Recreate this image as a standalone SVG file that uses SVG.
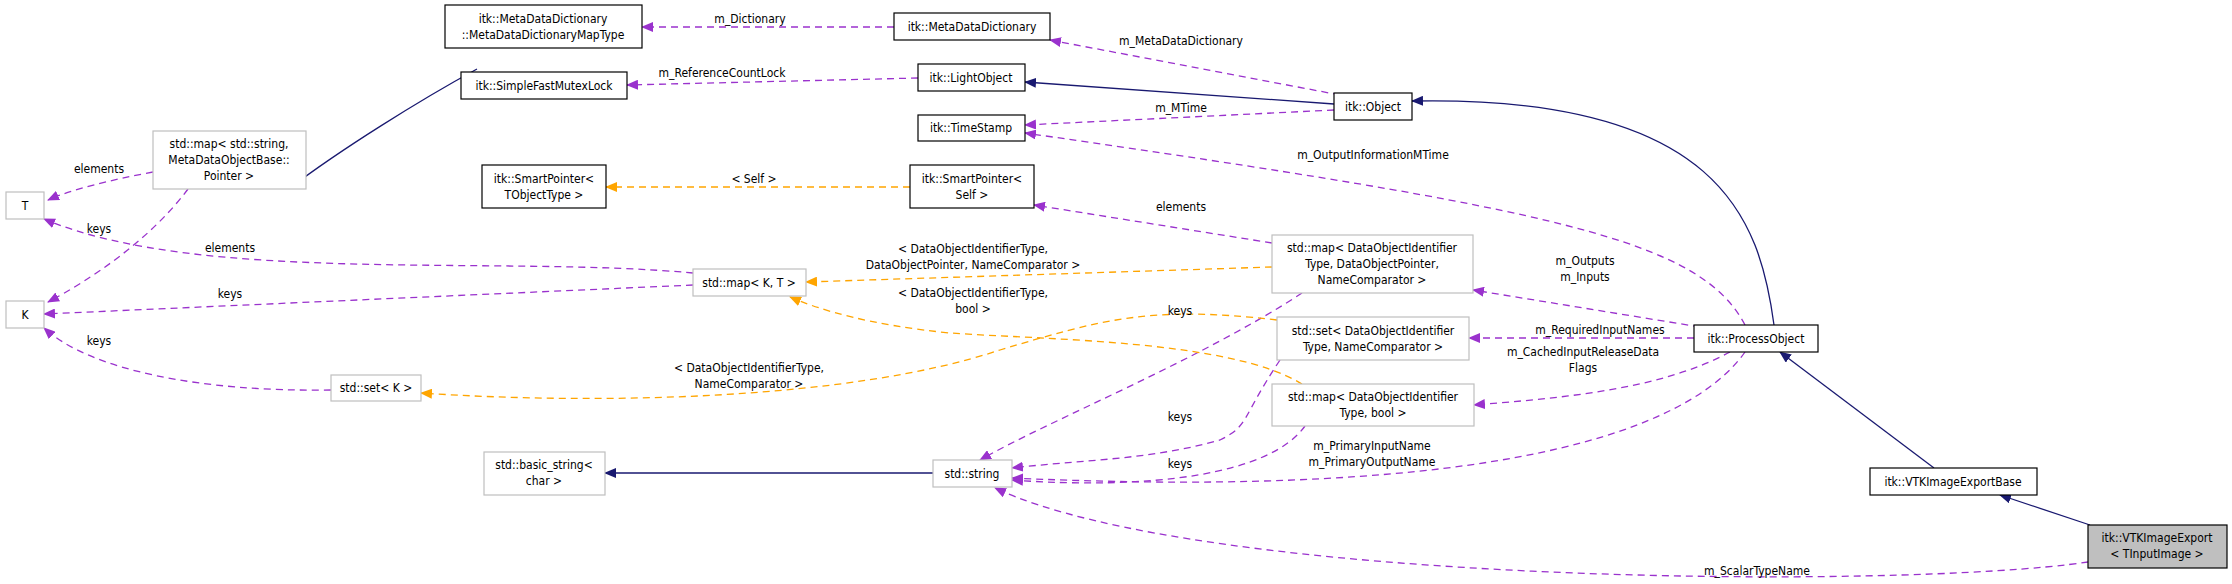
<svg xmlns="http://www.w3.org/2000/svg" width="2232" height="584" viewBox="0 0 2232 584">
<style>
text{font-family:"DejaVu Sans Condensed","DejaVu Sans","Liberation Sans",sans-serif;font-size:12px;fill:#000;text-anchor:middle}
.b{fill:#fff;stroke:#000;stroke-width:1.2}
.g{fill:#fff;stroke:#bfbfbf;stroke-width:1.2}
.h{fill:#bfbfbf;stroke:#000;stroke-width:1.2}
.inh{fill:none;stroke:#191970;stroke-width:1.3;marker-end:url(#an)}
.mem{fill:none;stroke:#9a32cd;stroke-width:1.3;stroke-dasharray:7,5;marker-end:url(#ap)}
.tpl{fill:none;stroke:#ffa500;stroke-width:1.3;stroke-dasharray:7,5;marker-end:url(#ao)}
</style>
<defs>
<marker id="an" markerWidth="12" markerHeight="10" refX="11" refY="5" orient="auto" markerUnits="userSpaceOnUse"><path d="M0,0L12,5L0,10z" fill="#191970"/></marker>
<marker id="ap" markerWidth="12" markerHeight="10" refX="11" refY="5" orient="auto" markerUnits="userSpaceOnUse"><path d="M0,0L12,5L0,10z" fill="#9a32cd"/></marker>
<marker id="ao" markerWidth="12" markerHeight="10" refX="11" refY="5" orient="auto" markerUnits="userSpaceOnUse"><path d="M0,0L12,5L0,10z" fill="#ffa500"/></marker>
</defs>
<g id="connectors">
<path class="inh" d="M477,69 C420,100 340,150 290,188"/>
<path class="inh" d="M1334,104 L1025,82"/>
<path class="inh" d="M1774,325 C1760,220 1720,95 1412,101"/>
<path class="inh" d="M1934,468 L1780,352"/>
<path class="inh" d="M2090,525 L2000,495"/>
<path class="inh" d="M933,473 L605,473"/>
<path class="mem" d="M894,27 L642,27"/>
<path class="mem" d="M1340,95 L1050,40"/>
<path class="mem" d="M918,78 L627,85"/>
<path class="mem" d="M1334,110 L1025,125"/>
<path class="mem" d="M1745,325 C1700,240 1560,210 1025,133"/>
<path class="mem" d="M1272,243 L1034,205"/>
<path class="mem" d="M1700,327 L1473,290"/>
<path class="mem" d="M1694,338 L1469,338"/>
<path class="mem" d="M1730,352 C1660,390 1560,398 1474,405"/>
<path class="mem" d="M1745,352 C1690,430 1500,500 1012,478"/>
<path class="mem" d="M2088,562 C1900,590 1200,585 995,488"/>
<path class="mem" d="M1302,293 C1200,360 1050,420 980,460"/>
<path class="mem" d="M1280,360 C1240,420 1250,425 1220,440 C1150,460 1080,460 1012,468"/>
<path class="mem" d="M1305,426 C1270,475 1150,490 1012,480"/>
<path class="mem" d="M693,273 C500,255 200,285 44,219"/>
<path class="mem" d="M693,285 L44,314"/>
<path class="mem" d="M153,172 C110,180 70,190 48,200"/>
<path class="mem" d="M188,189 C150,240 90,280 48,302"/>
<path class="mem" d="M331,390 C200,392 90,370 44,328"/>
<path class="tpl" d="M910,187 L606,187"/>
<path class="tpl" d="M1272,267 L806,282"/>
<path class="tpl" d="M1277,320 C1150,305 1100,320 1000,350 C850,400 600,405 421,393"/>
<path class="tpl" d="M1302,384 C1230,340 1050,340 950,333 C870,325 820,310 790,297"/>
<text x="750" y="23">m_Dictionary</text>
<text x="1181" y="45">m_MetaDataDictionary</text>
<text x="722" y="77">m_ReferenceCountLock</text>
<text x="1181" y="112">m_MTime</text>
<text x="1373" y="159">m_OutputInformationMTime</text>
<text x="754" y="183">&lt; Self &gt;</text>
<text x="1181" y="211">elements</text>
<text x="973" y="253">&lt; DataObjectIdentifierType,</text>
<text x="973" y="269">DataObjectPointer, NameComparator &gt;</text>
<text x="973" y="297">&lt; DataObjectIdentifierType,</text>
<text x="973" y="313">bool &gt;</text>
<text x="1180" y="315">keys</text>
<text x="1180" y="421">keys</text>
<text x="1180" y="468">keys</text>
<text x="749" y="372">&lt; DataObjectIdentifierType,</text>
<text x="749" y="388">NameComparator &gt;</text>
<text x="1585" y="265">m_Outputs</text>
<text x="1585" y="281">m_Inputs</text>
<text x="1600" y="334">m_RequiredInputNames</text>
<text x="1583" y="356">m_CachedInputReleaseData</text>
<text x="1583" y="372">Flags</text>
<text x="1372" y="450">m_PrimaryInputName</text>
<text x="1372" y="466">m_PrimaryOutputName</text>
<text x="1757" y="575">m_ScalarTypeName</text>
<text x="99" y="173">elements</text>
<text x="99" y="233">keys</text>
<text x="230" y="252">elements</text>
<text x="230" y="298">keys</text>
<text x="99" y="345">keys</text>
</g>
<g id="n_MapType"><rect class="b" x="445" y="5" width="197" height="43"/><text x="543" y="23">itk::MetaDataDictionary</text><text x="543" y="39">::MetaDataDictionaryMapType</text></g>
<g id="n_Mutex"><rect class="b" x="461" y="72" width="166" height="27"/><text x="544" y="90">itk::SimpleFastMutexLock</text></g>
<g id="n_MapString"><rect class="g" x="153" y="131" width="153" height="58"/><text x="229" y="148">std::map&lt; std::string,</text><text x="229" y="164">MetaDataObjectBase::</text><text x="229" y="180">Pointer &gt;</text></g>
<g id="n_T"><rect class="g" x="6" y="192" width="38" height="27"/><text x="25" y="210">T</text></g>
<g id="n_K"><rect class="g" x="6" y="301" width="38" height="27"/><text x="25" y="319">K</text></g>
<g id="n_SPT"><rect class="b" x="482" y="165" width="124" height="43"/><text x="544" y="183">itk::SmartPointer&lt;</text><text x="544" y="199">TObjectType &gt;</text></g>
<g id="n_MapKT"><rect class="g" x="693" y="269" width="113" height="27"/><text x="749" y="287">std::map&lt; K, T &gt;</text></g>
<g id="n_SetK"><rect class="g" x="331" y="375" width="90" height="26"/><text x="376" y="392">std::set&lt; K &gt;</text></g>
<g id="n_BasicString"><rect class="g" x="484" y="452" width="121" height="43"/><text x="544" y="469">std::basic_string&lt;</text><text x="544" y="485">char &gt;</text></g>
<g id="n_MDD"><rect class="b" x="894" y="13" width="156" height="27"/><text x="972" y="31">itk::MetaDataDictionary</text></g>
<g id="n_Light"><rect class="b" x="918" y="64" width="107" height="27"/><text x="971" y="82">itk::LightObject</text></g>
<g id="n_Time"><rect class="b" x="918" y="115" width="107" height="26"/><text x="971" y="132">itk::TimeStamp</text></g>
<g id="n_SPS"><rect class="b" x="910" y="165" width="124" height="43"/><text x="972" y="183">itk::SmartPointer&lt;</text><text x="972" y="199">Self &gt;</text></g>
<g id="n_Object"><rect class="b" x="1334" y="93" width="78" height="27"/><text x="1373" y="111">itk::Object</text></g>
<g id="n_MapDOI"><rect class="g" x="1272" y="235" width="201" height="58"/><text x="1372" y="252">std::map&lt; DataObjectIdentifier</text><text x="1372" y="268">Type, DataObjectPointer,</text><text x="1372" y="284">NameComparator &gt;</text></g>
<g id="n_SetDOI"><rect class="g" x="1277" y="317" width="192" height="43"/><text x="1373" y="335">std::set&lt; DataObjectIdentifier</text><text x="1373" y="351">Type, NameComparator &gt;</text></g>
<g id="n_MapBool"><rect class="g" x="1272" y="384" width="202" height="42"/><text x="1373" y="401">std::map&lt; DataObjectIdentifier</text><text x="1373" y="417">Type, bool &gt;</text></g>
<g id="n_String"><rect class="g" x="933" y="460" width="79" height="27"/><text x="972" y="478">std::string</text></g>
<g id="n_Process"><rect class="b" x="1694" y="325" width="124" height="27"/><text x="1756" y="343">itk::ProcessObject</text></g>
<g id="n_Base"><rect class="b" x="1870" y="468" width="167" height="27"/><text x="1953" y="486">itk::VTKImageExportBase</text></g>
<g id="n_Export"><rect class="h" x="2088" y="525" width="139" height="43"/><text x="2157" y="542">itk::VTKImageExport</text><text x="2157" y="558">&lt; TInputImage &gt;</text></g>
</svg>
